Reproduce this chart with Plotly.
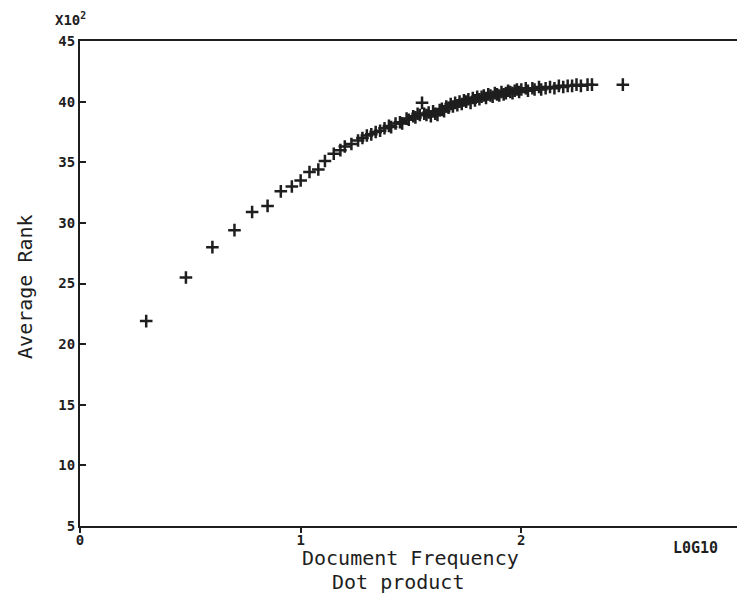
import plotly.graph_objects as go

# log10(document frequency)
x_vals = [0.30, 0.48, 0.60, 0.70, 0.78, 0.85, 0.91, 0.96, 1.00, 1.04,
          1.08, 1.11, 1.15, 1.18, 1.20, 1.23, 1.26, 1.28, 1.30, 1.32,
          1.34, 1.36, 1.38, 1.40, 1.41, 1.43, 1.45, 1.46, 1.48, 1.49,
          1.51, 1.52, 1.53, 1.55, 1.54, 1.56, 1.57, 1.58, 1.59, 1.60,
          1.61, 1.62, 1.63, 1.64, 1.65, 1.66, 1.67, 1.68, 1.69, 1.70,
          1.71, 1.72, 1.73, 1.74, 1.75, 1.76, 1.77, 1.78, 1.79, 1.80,
          1.81, 1.82, 1.83, 1.84, 1.85, 1.86, 1.87, 1.88, 1.89, 1.90,
          1.91, 1.92, 1.93, 1.94, 1.95, 1.96, 1.97, 1.98, 1.99, 2.00,
          2.02, 2.03, 2.05, 2.06, 2.08, 2.09, 2.11, 2.13, 2.15, 2.17,
          2.19, 2.21, 2.23, 2.25, 2.27, 2.30, 2.32, 2.46]
# average rank (x 10^2)
y_vals = [21.9, 25.5, 28.0, 29.4, 30.9, 31.4, 32.6, 33.0, 33.5, 34.2,
          34.4, 35.1, 35.7, 36.0, 36.3, 36.5, 36.8, 37.0, 37.2, 37.3,
          37.5, 37.6, 37.8, 38.0, 37.9, 38.2, 38.3, 38.2, 38.6, 38.5,
          38.8, 38.7, 39.0, 39.9, 38.9, 39.0, 38.9, 39.1, 38.8, 39.2,
          39.0, 38.9, 39.3, 39.4, 39.2, 39.6, 39.5, 39.8, 39.6, 39.9,
          39.7, 40.0, 39.8, 40.1, 40.0, 40.2, 39.9, 40.3, 40.1, 40.4,
          40.2, 40.4, 40.5, 40.3, 40.6, 40.5, 40.4, 40.7, 40.6, 40.5,
          40.8, 40.6, 40.7, 40.9, 40.8, 40.7, 40.9, 41.0, 40.8, 41.0,
          41.1, 40.9, 41.1, 41.0, 41.2, 41.0, 41.1, 41.2, 41.1, 41.3,
          41.2, 41.3, 41.3, 41.4, 41.3, 41.4, 41.4, 41.4]

x_ticks = [0, 1, 2, 3]
y_ticks = [5, 10, 15, 20, 25, 30, 35, 40, 45]

INK = "#1e1e1e"
FONT = "DejaVu Sans Mono"

fig = go.Figure()
fig.add_trace(go.Scatter(
    x=x_vals, y=y_vals, mode="markers",
    marker=dict(symbol="cross-thin", size=9, line=dict(width=2.5, color=INK), color=INK),
    hoverinfo="skip", showlegend=False))

# page body has an 8px default margin: figure is sized/offset to compensate
fig.update_layout(
    width=737, height=587,
    margin=dict(l=72, r=3, t=33, b=69),
    paper_bgcolor="white", plot_bgcolor="white",
    font=dict(family=FONT, color=INK),
    xaxis=dict(range=[0, 3], tickvals=x_ticks, ticktext=[str(v) for v in x_ticks],
               automargin=False,
               showgrid=False, zeroline=False, showline=True, linewidth=2, linecolor=INK,
               mirror=True, ticks="outside", ticklen=5, tickwidth=2, tickcolor=INK,
               ticklabelstandoff=-5,
               tickfont=dict(family=FONT, size=14, weight="bold", color=INK)),
    yaxis=dict(range=[5, 45], tickvals=y_ticks, ticktext=[str(v) for v in y_ticks],
               automargin=False,
               showgrid=False, zeroline=False, showline=True, linewidth=2, linecolor=INK,
               mirror=True, ticks="inside", ticklen=6, tickwidth=2, tickcolor=INK,
               tickfont=dict(family=FONT, size=14, weight="bold", color=INK)),
    annotations=[
        dict(text="X10<sup>2</sup>", xref="paper", yref="paper", x=-0.041, y=1.045,
             xanchor="left", yanchor="middle", showarrow=False,
             font=dict(family=FONT, size=14, weight="bold", color=INK)),
        dict(text="L0G10", xref="paper", yref="paper", x=0.930, y=-0.045,
             xanchor="center", yanchor="middle", showarrow=False,
             font=dict(family=FONT, size=15, weight="bold", color=INK)),
        dict(text="Document Frequency", xref="paper", yref="paper",
             x=0.4985, y=-0.066, xanchor="center", yanchor="middle", showarrow=False,
             font=dict(family=FONT, size=20, color=INK)),
        dict(text="Dot product", xref="paper", yref="paper",
             x=0.480, y=-0.1155, xanchor="center", yanchor="middle", showarrow=False,
             font=dict(family=FONT, size=20, color=INK)),
        dict(text="Average Rank", xref="paper", yref="paper", x=-0.083, y=0.493,
             xanchor="center", yanchor="middle", textangle=-90, showarrow=False,
             font=dict(family=FONT, size=20, color=INK)),
    ],
)

fig.write_html("out.html")
